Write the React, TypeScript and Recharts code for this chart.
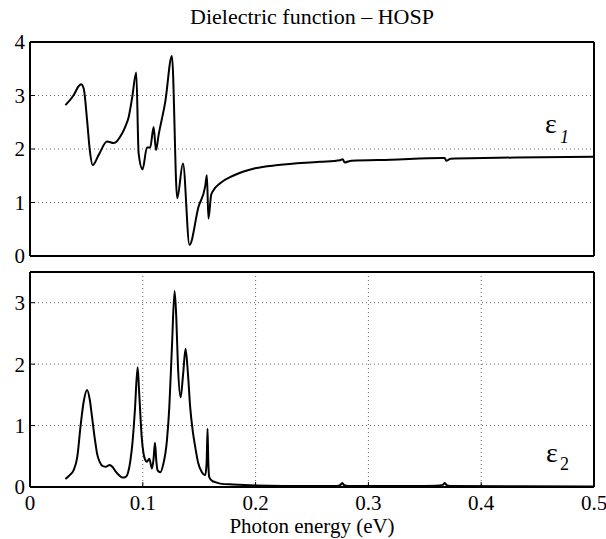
import { LineChart, Line, XAxis, YAxis, CartesianGrid } from 'recharts'

const eps1Energy = [
  0.0314, 0.0388, 0.043, 0.0453, 0.0476, 0.0506, 0.053, 0.0556, 0.0609, 0.0683,
  0.0742, 0.0816, 0.0845, 0.0875, 0.0905, 0.0942, 0.0963, 0.0998, 0.1037, 0.1066,
  0.1096, 0.1117, 0.114, 0.1199, 0.1258, 0.1305, 0.1356, 0.1414, 0.1494, 0.1553,
  0.1568, 0.1582, 0.1606, 0.1627, 0.1686, 0.18, 0.1996, 0.22, 0.257, 0.275,
  0.2772, 0.279, 0.285, 0.32, 0.365, 0.3677, 0.369, 0.373, 0.43, 0.5,
]
const eps1Values = [
  2.82, 3.01, 3.17, 3.21, 3.13, 2.54, 1.98, 1.7, 1.89, 2.14,
  2.11, 2.29, 2.42, 2.6, 2.95, 3.43, 1.92, 1.62, 2.03, 2.03,
  2.41, 1.98, 2.26, 2.88, 3.74, 1.08, 1.73, 0.21, 0.92, 1.3,
  1.51, 0.7, 1.14, 1.23, 1.36, 1.5, 1.64, 1.7, 1.76, 1.79,
  1.81, 1.75, 1.78, 1.8, 1.83, 1.83, 1.78, 1.82, 1.84, 1.855,
]

// ε2 (imaginary part)
const eps2Energy = [
  0.0314, 0.035, 0.0388, 0.042, 0.0447, 0.0475, 0.0506, 0.053, 0.055, 0.0575,
  0.0595, 0.062, 0.0645, 0.0675, 0.0706, 0.073, 0.0757, 0.079, 0.082, 0.0845,
  0.087, 0.089, 0.091, 0.093, 0.0954, 0.0966, 0.0978, 0.099, 0.1007, 0.1022,
  0.1037, 0.1058, 0.1081, 0.1095, 0.1108, 0.112, 0.1131, 0.1155, 0.118, 0.1214,
  0.1235, 0.1258, 0.1282, 0.1297, 0.1311, 0.1335, 0.1358, 0.1379, 0.14, 0.142,
  0.1445, 0.1465, 0.149, 0.1524, 0.1553, 0.1566, 0.1574, 0.158, 0.1589, 0.1615,
  0.1642, 0.1686, 0.18, 0.2, 0.25, 0.272, 0.275, 0.2768, 0.2785, 0.282,
  0.34, 0.36, 0.366, 0.3677, 0.3695, 0.374, 0.43, 0.5,
]
const eps2Values = [
  0.13, 0.19, 0.28, 0.5, 0.97, 1.38, 1.58, 1.42, 1.14, 0.78,
  0.54, 0.4, 0.34, 0.33, 0.36, 0.33, 0.26, 0.19, 0.155, 0.16,
  0.24, 0.43, 0.75, 1.25, 1.95, 1.6, 1.19, 0.82, 0.54, 0.44,
  0.41, 0.46, 0.3, 0.45, 0.72, 0.42, 0.27, 0.24, 0.36, 0.76,
  1.3, 2.27, 3.19, 2.75, 2.0, 1.46, 1.85, 2.25, 1.85, 1.3,
  0.88, 0.65, 0.4, 0.24, 0.19, 0.4, 0.95, 0.45, 0.16, 0.1,
  0.08, 0.055, 0.04, 0.025, 0.015, 0.015, 0.03, 0.065, 0.03, 0.015,
  0.015, 0.022, 0.035, 0.065, 0.03, 0.015, 0.012, 0.01,
]

const energyTicks = [0, 0.1, 0.2, 0.3, 0.4, 0.5]
const eps1Ticks = [0, 1, 2, 3, 4]
const eps2Ticks = [0, 1, 2, 3]

const FONT = '"Liberation Serif", "Times New Roman", serif'
const tickStyle = { fontSize: 21, fill: '#000', fontFamily: FONT }
const boxLine = { stroke: '#000', strokeWidth: 2 }
const tickMark = { stroke: '#000', strokeWidth: 1 }

const eps1Data = eps1Energy.map((e, i) => ({ e, v: eps1Values[i] }))
const eps2Data = eps2Energy.map((e, i) => ({ e, v: eps2Values[i] }))

interface PanelProps {
  data: { e: number; v: number }[]
  yMax: number
  yTicks: number[]
  height: number
  top: number
  topAxis: number
  bottomAxis: number
  xLabels: boolean
}

function Panel({ data, yMax, yTicks, height, top, topAxis, bottomAxis, xLabels }: PanelProps) {
  return (
    <LineChart width={606} height={height} data={data} margin={{ top, right: 0, bottom: 0, left: 0 }}>
      <CartesianGrid xAxisId="b" yAxisId="l" stroke="#666" strokeDasharray="1 3" />
      <XAxis
        xAxisId="b" type="number" dataKey="e" domain={[0, 0.5]} ticks={energyTicks} interval={0}
        height={bottomAxis} tickSize={-5} tickMargin={13} tick={xLabels ? tickStyle : false}
        axisLine={boxLine} tickLine={tickMark} allowDataOverflow
      />
      <XAxis
        xAxisId="t" orientation="top" type="number" dataKey="e" domain={[0, 0.5]} ticks={energyTicks}
        interval={0} height={topAxis} tickSize={-5} tick={false} axisLine={boxLine} tickLine={tickMark}
        allowDataOverflow
      />
      <YAxis
        yAxisId="l" type="number" domain={[0, yMax]} ticks={yTicks} interval={0} width={30}
        tickSize={-5} tickMargin={10} tick={tickStyle} axisLine={boxLine} tickLine={tickMark}
        allowDataOverflow
      />
      <YAxis
        yAxisId="r" orientation="right" type="number" domain={[0, yMax]} ticks={yTicks} interval={0}
        width={12} tickSize={-5} tick={false} axisLine={boxLine} tickLine={tickMark} allowDataOverflow
      />
      <Line
        xAxisId="b" yAxisId="l" dataKey="v" type="monotone" stroke="#000" strokeWidth={2}
        dot={false} isAnimationActive={false}
      />
    </LineChart>
  )
}

export default function App() {
  return (
    <div style={{ position: 'absolute', left: 0, top: 0, width: 606, height: 539, background: '#fff' }}>
      <div style={{ position: 'absolute', left: 0, top: 0 }}>
        <Panel data={eps1Data} yMax={4} yTicks={eps1Ticks} height={270} top={12} topAxis={30} bottomAxis={14} xLabels={false} />
      </div>
      <div style={{ position: 'absolute', left: 0, top: 256 }}>
        <Panel data={eps2Data} yMax={3.5} yTicks={eps2Ticks} height={283} top={0} topAxis={16} bottomAxis={52} xLabels />
      </div>
      <svg width={606} height={539} style={{ position: 'absolute', left: 0, top: 0, pointerEvents: 'none' }} fontFamily={FONT}>
        <text x={312} y={24} textAnchor="middle" fontSize={22}>Dielectric function – HOSP</text>
        <text x={312} y={533} textAnchor="middle" fontSize={21}>Photon energy (eV)</text>
        <text x={545} y={133} fontSize={28}>ε</text>
        <text x={560} y={143} fontSize={18} fontStyle="italic">1</text>
        <text x={546} y={462} fontSize={28}>ε</text>
        <text x={560} y={470} fontSize={18}>2</text>
      </svg>
    </div>
  )
}
